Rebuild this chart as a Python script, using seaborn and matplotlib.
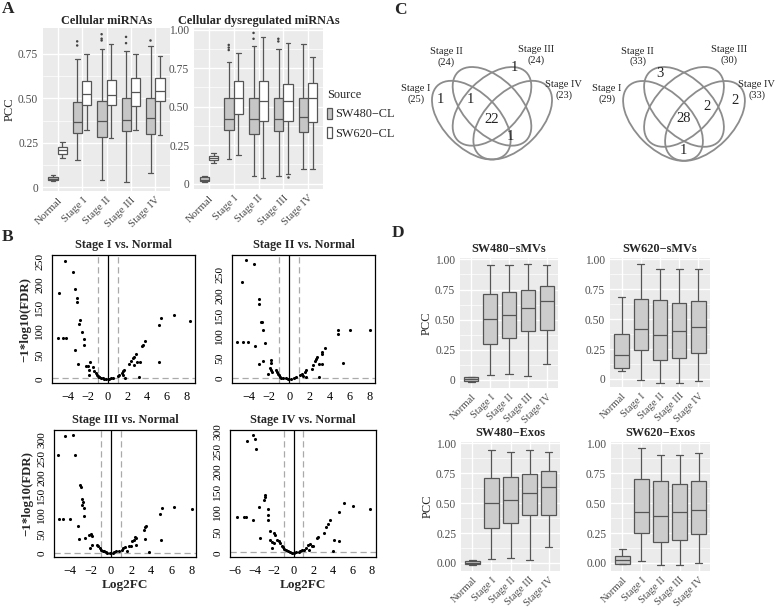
import numpy as np
import pandas as pd
import matplotlib
matplotlib.use("Agg")
import matplotlib.pyplot as plt
from matplotlib.patches import Ellipse, Patch
import seaborn as sns

sns.set_theme(style="white")
plt.rcParams['font.family'] = ['Liberation Serif', 'DejaVu Serif']
plt.rcParams['axes.unicode_minus'] = True

W, H = 777, 608

# ---------------- DATA ----------------
stages = ["Normal", "Stage I", "Stage II", "Stage III", "Stage IV"]
sources = ["SW480\u2212CL", "SW620\u2212CL"]

# five-number summaries [min, q1, median, q3, max] per stage
cell_sw480 = [[0.035, 0.042, 0.05, 0.06, 0.07],
              [0.152, 0.304, 0.365, 0.48, 0.72],
              [0.044, 0.285, 0.374, 0.484, 0.778],
              [0.032, 0.317, 0.378, 0.50, 0.765],
              [0.082, 0.30, 0.389, 0.50, 0.792]]
cell_sw620 = [[0.165, 0.186, 0.209, 0.228, 0.253],
              [0.323, 0.461, 0.522, 0.598, 0.75],
              [0.275, 0.465, 0.518, 0.602, 0.803],
              [0.323, 0.456, 0.537, 0.613, 0.75],
              [0.294, 0.484, 0.541, 0.617, 0.74]]
cell_out_stage = ["Stage I", "Stage I", "Stage II", "Stage II", "Stage II", "Stage III", "Stage III", "Stage IV"]
cell_out_source = ["SW480\u2212CL"] * 8
cell_out_value = [0.797, 0.82, 0.86, 0.835, 0.825, 0.845, 0.81, 0.83]

dys_sw480 = [[0.01, 0.015, 0.025, 0.04, 0.048],
             [0.159, 0.347, 0.418, 0.553, 0.79],
             [0.049, 0.319, 0.418, 0.558, 0.896],
             [0.049, 0.341, 0.418, 0.553, 0.874],
             [0.097, 0.336, 0.431, 0.553, 0.905]]
dys_sw620 = [[0.137, 0.153, 0.168, 0.181, 0.199],
             [0.188, 0.454, 0.557, 0.664, 0.845],
             [0.038, 0.407, 0.535, 0.664, 0.949],
             [0.064, 0.407, 0.535, 0.646, 0.91],
             [0.097, 0.403, 0.557, 0.65, 0.823]]
dys_out_stage = ["Stage I", "Stage I", "Stage I", "Stage II", "Stage II", "Stage III", "Stage III", "Stage III"]
dys_out_source = ["SW480\u2212CL"] * 7 + ["SW620\u2212CL"]
dys_out_value = [0.90, 0.883, 0.867, 0.978, 0.94, 0.94, 0.923, 0.042]

smv_sw480 = [[-0.015, -0.012, 0.005, 0.02, 0.025],
             [0.042, 0.297, 0.508, 0.714, 0.958],
             [0.05, 0.347, 0.539, 0.728, 0.95],
             [0.033, 0.403, 0.597, 0.75, 0.964],
             [0.133, 0.417, 0.653, 0.778, 0.95]]
smv_sw620 = [[0.064, 0.092, 0.204, 0.373, 0.686],
             [-0.006, 0.238, 0.42, 0.672, 0.958],
             [-0.034, 0.154, 0.37, 0.664, 0.919],
             [-0.034, 0.174, 0.40, 0.639, 0.919],
             [-0.02, 0.218, 0.434, 0.653, 0.924]]
exo_sw480 = [[-0.014, -0.010, 0.003, 0.019, 0.025],
             [0.033, 0.293, 0.499, 0.707, 0.945],
             [0.041, 0.334, 0.529, 0.718, 0.932],
             [0.027, 0.397, 0.589, 0.745, 0.945],
             [0.129, 0.405, 0.638, 0.767, 0.926]]
exo_sw620 = [[-0.008, -0.006, 0.028, 0.058, 0.119],
             [0.014, 0.254, 0.425, 0.699, 0.959],
             [-0.014, 0.174, 0.395, 0.682, 0.906],
             [-0.014, 0.193, 0.428, 0.657, 0.906],
             [0.0, 0.240, 0.442, 0.682, 0.917]]

# volcano data
v1_lfc = [-4.3, -3.56, -4.98, -3.32, -3.15, -3.12, -2.81, -2.88, -2.64, -2.37, -2.44, -5.08, -4.58, -4.24,
          -3.32, -3.05, -1.76, -2.0, -2.2, -1.9, -1.5, -1.86, -1.36, -1.19, -1.08, -1.02, -0.92, -0.85,
          -0.68, -0.51, -0.34, -0.17, 0.17, 0.34, 0.51, 1.19, 1.02, 1.42, 1.59, 1.53, 1.69, 1.8,
          2.14, 2.37, 2.54, 2.64, 2.88, 2.64, 2.98, 3.32, 3.22, 3.49, 3.56, 3.83, 5.25, 5.25, 5.42, 6.78, 8.4]
v1_fdr = [250, 227, 182, 191, 172, 163, 125, 117, 100, 85, 72, 88, 88, 88,
          62, 32, 37, 28, 27, 20, 25, 8, 17.6, 12.7, 9.2, 5.6, 3.5, 4.2,
          2.1, 1.4, 0, 0, 0.7, 1.4, 2.8, 9.2, 7, 12.7, 16.2, 7.7, 19.7, 2.1,
          32, 39, 44, 46, 54, 30, 35, 36, 4, 69, 73, 80, 37, 114, 129, 136, 124]

v2_lfc = [-4.23, -3.47, -4.63, -3.0, -2.94, -2.81, -2.68, -2.55, -5.19, -4.56, -4.07, -3.34, -2.41, -2.58,
          -2.98, -1.82, -1.82, -2.08, -1.85, -1.75, -1.65, -1.26, -1.19, -1.09, -1.02, -0.93, -0.76, -0.6,
          -0.33, -0.1, 0.23, 0.46, 0.73, 1.06, 1.32, 1.39, 1.55, 1.65, 1.72,
          2.28, 2.38, 2.55, 2.71, 2.78, 2.98, 3.21, 3.27, 3.54, 2.98, 3.3, 5.29, 4.86, 4.86, 6.02, 8.0]
v2_fdr = [286, 275, 231, 192, 179, 137, 137, 117, 87, 87, 87, 79, 85, 42,
          35, 44, 38, 12, 25.8, 21.8, 16.1, 20.2, 16.1, 12.1, 8.1, 4, 2.4, 1.6,
          0.8, 0, 0, 1.6, 4, 8.1, 12.1, 5.6, 16.1, 4, 20.2,
          24, 32, 43, 47, 51, 36, 59, 63, 73, 4, 36, 38, 117, 107, 117, 117]

v3_lfc = [-4.52, -3.76, -5.18, -3.53, -3.04, -2.97, -2.87, -2.71, -2.8, -2.6, -2.64, -5.08, -4.75, -4.03,
          -3.27, -3.14, -2.54, -2.11, -1.98, -1.88, -2.05, -1.9, -1.39, -1.22, -1.06, -0.96, -0.79, -0.66,
          -0.5, -0.33, -0.07, 0.17, 0.33, 0.53, 0.76, 1.09, 1.25, 1.42, 1.58, 1.78,
          1.98, 2.08, 2.24, 2.41, 2.51, 2.51, 3.23, 3.33, 3.4, 3.5, 3.73, 4.88, 5.05, 4.95, 6.2, 8.0]
v3_fdr = [310, 313, 260, 260, 180, 175, 143, 136, 127, 118, 99, 89, 89, 89,
          72, 38, 40, 48, 51, 46, 13, 22, 21.9, 17.5, 13.2, 8.8, 6.1, 4.4,
          1.8, 0.9, 0, 0.9, 2.6, 4.4, 6.1, 8.8, 13.2, 15.8, 4.4, 19.3,
          19, 31, 35, 42, 40, 22, 61, 37, 68, 72, 4, 104, 120, 34, 121, 116]

v4_lfc = [-4.1, -3.96, -4.78, -3.86, -2.97, -2.9, -3.0, -2.66, -2.63, -2.63, -3.52, -5.8, -5.05, -4.88,
          -4.16, -3.48, -2.39, -2.05, -1.88, -2.39, -2.22, -1.95, -1.71, -1.54, -1.37, -1.19, -1.09, -0.96,
          -0.78, -0.61, -0.41, -0.17, 0.07, 0.27, 0.51, 0.68, 0.85, -2.22, 1.02, 1.3, 1.43, 1.54, 1.71,
          1.88, 1.98, 2.39, 2.46, 3.14, 3.34, 3.48, 3.75, 4.1, 3.99, 4.68, 5.19, 4.68, 6.07, 7.85]
v4_fdr = [291, 281, 277, 257, 143, 138, 131, 109, 94, 82, 113, 89, 89, 89,
          82, 37, 53, 49, 45, 32.8, 26.2, 24.6, 32.8, 28.7, 24.6, 16.4, 14.8, 9.8,
          6.6, 4.1, 1.6, 0, 0, 1.6, 3.3, 5.7, 8.2, 12, 8.2, 12.3, 20.5, 6.6, 22.1,
          16.4, 18, 37, 39, 49, 64, 72, 80, 31, 6, 100, 123, 29, 115, 109]

# Venn data
venn_sets = ["Stage I", "Stage II", "Stage III", "Stage IV"]
venn1_totals = [25, 24, 24, 23]
venn2_totals = [29, 33, 30, 33]
venn1_counts = [1, 1, 1, 22, 1]
venn2_counts = [3, 28, 2, 2, 1]

# ---------------- HELPERS ----------------
fig = plt.figure(figsize=(W / 100, H / 100), dpi=100)


def px_axes(x0, y0, x1, y1):
    return fig.add_axes([x0 / W, 1 - y1 / H, (x1 - x0) / W, (y1 - y0) / H])


def ftext(x, y, s, **kw):
    fig.text(x / W, 1 - y / H, s, **kw)


def five_df(series, names):
    rows = []
    for name, arr in zip(names, series):
        for st, vals in zip(stages, arr):
            for v in vals:
                rows.append({"stage": st, "source": name, "pcc": v})
    return pd.DataFrame(rows)


def gg_style(ax, ylim, yticks, yticklabels, xfs=8.0):
    ax.set_facecolor("#EBEBEB")
    for s in ax.spines.values():
        s.set_visible(False)
    ax.set_ylim(*ylim)
    ax.set_xlim(-0.6, 4.6)
    ax.set_yticks(yticks)
    ax.set_yticklabels(yticklabels)
    minors = [(a + b) / 2 for a, b in zip(yticks[:-1], yticks[1:])]
    ax.set_yticks(minors, minor=True)
    ax.grid(True, which="major", color="white", linewidth=1.0)
    ax.grid(True, which="minor", axis="y", color="white", linewidth=0.5)
    ax.set_axisbelow(True)
    ax.tick_params(axis="y", which="major", length=2.2, width=0.6, color="#333333",
                   labelsize=8.3, labelcolor="#4D4D4D", pad=1.2)
    ax.tick_params(axis="x", which="major", length=2.2, width=0.6, color="#333333",
                   labelsize=xfs, labelcolor="#4D4D4D", pad=1.0)
    ax.tick_params(axis="both", which="minor", length=0)
    ax.set_xticks(range(len(stages)))
    ax.set_xticklabels(stages, rotation=45, ha="right", rotation_mode="anchor")
    ax.set_xlabel("")
    ax.set_ylabel("")


box_kw = dict(whis=(0, 100), width=0.75, linewidth=0.9, linecolor="#555555",
              fliersize=0, saturation=1)

# ---------------- PANEL A ----------------
palA = {sources[0]: "#C6C6C6", sources[1]: "#FFFFFF"}
for (x0, x1, y0, y1), s480, s620, out_st, out_src, out_v, title, ylim, ticks, tl in [
    ((43, 170, 28, 191), cell_sw480, cell_sw620, cell_out_stage, cell_out_source, cell_out_value,
     "Cellular miRNAs", (-0.02, 0.895), [0, 0.25, 0.5, 0.75], ["0", "0.25", "0.50", "0.75"]),
    ((194, 323, 28, 189), dys_sw480, dys_sw620, dys_out_stage, dys_out_source, dys_out_value,
     "Cellular dysregulated miRNAs", (-0.035, 1.01), [0, 0.25, 0.5, 0.75, 1.0],
     ["0", "0.25", "0.50", "0.75", "1.00"])]:
    ax = px_axes(x0, y0, x1, y1)
    df = five_df([s480, s620], sources)
    sns.boxplot(data=df, x="stage", y="pcc", hue="source", order=stages, hue_order=sources,
                palette=palA, legend=False, ax=ax, **box_kw)
    od = pd.DataFrame({"stage": out_st, "source": out_src, "pcc": out_v})
    sns.stripplot(data=od, x="stage", y="pcc", hue="source", order=stages, hue_order=sources,
                  palette={sources[0]: "#444444", sources[1]: "#444444"}, dodge=True, jitter=False,
                  size=1.8, linewidth=0, legend=False, ax=ax)
    gg_style(ax, ylim, ticks, tl)
    ax.set_title(title, fontsize=8.8, fontweight="bold", pad=3)
    if x0 < 100:
        ax.set_ylabel("PCC", fontsize=9, labelpad=2)

handles = [Patch(facecolor=palA[s], edgecolor="#555555", linewidth=0.9) for s in sources]
fig.legend(handles, sources, title="Source", loc="upper left",
           bbox_to_anchor=(322 / W, 1 - 84 / H), frameon=False, fontsize=8.8, title_fontsize=8.8,
           handlelength=0.45, handleheight=1.0, handletextpad=0.2, labelspacing=0.55,
           alignment="left", borderaxespad=0)

# ---------------- PANEL B ----------------
vol_specs = [
    ((52, 255, 195, 383), v1_lfc, v1_fdr, (-5.66, 8.88), (-8.5, 263), range(-4, 9, 2), range(0, 251, 50),
     "Stage I vs. Normal", True, False),
    ((232, 255, 375, 383), v2_lfc, v2_fdr, (-5.65, 8.5), (-10.5, 297), range(-4, 9, 2), range(0, 251, 50),
     "Stage II vs. Normal", False, False),
    ((54, 430, 196, 557), v3_lfc, v3_fdr, (-5.6, 8.4), (-10.5, 325), range(-4, 9, 2), range(0, 301, 50),
     "Stage III vs. Normal", True, True),
    ((230, 430, 376, 557), v4_lfc, v4_fdr, (-6.5, 8.43), (-10, 303), range(-6, 9, 2), range(0, 301, 50),
     "Stage IV vs. Normal", False, True),
]
for (x0, y0, x1, y1), lx, ly, xl, yl, xt, yt, title, showy, showx in vol_specs:
    ax = px_axes(x0, y0, x1, y1)
    ax.set_facecolor("white")
    sns.scatterplot(x=lx, y=ly, color="black", s=5, linewidth=0, ax=ax, zorder=3)
    ax.axhline(-np.log10(0.05), color="#AAAAAA", linestyle=(0, (5, 3)), linewidth=0.9, zorder=1)
    ax.axvline(-1, color="#AAAAAA", linestyle=(0, (5, 3)), linewidth=0.9, zorder=1)
    ax.axvline(1, color="#AAAAAA", linestyle=(0, (5, 3)), linewidth=0.9, zorder=1)
    ax.axvline(0, color="black", linewidth=0.9, zorder=2)
    ax.set_xlim(*xl)
    ax.set_ylim(*yl)
    ax.set_xticks(list(xt))
    ax.set_yticks(list(yt))
    ax.set_xticklabels([str(v).replace("-", "\u2212") for v in xt])
    ax.set_yticklabels([str(v) for v in yt], rotation=90, va="center")
    for s in ax.spines.values():
        s.set_visible(True)
        s.set_color("black")
        s.set_linewidth(0.9)
    ax.tick_params(axis="x", length=3.5, width=0.8, color="black", labelsize=8.8,
                   labelcolor="black", pad=2, direction="out")
    ax.tick_params(axis="y", length=3.5, width=0.8, color="black", labelsize=8.2,
                   labelcolor="black", pad=2, direction="out")
    ax.grid(False)
    ax.set_title(title, fontsize=8.8, fontweight="bold", pad=5)
    if showy:
        ax.set_ylabel("\u22121*log10(FDR)", fontsize=9.3, fontweight="bold", labelpad=3)
    if showx:
        ax.set_xlabel("Log2FC", fontsize=9.5, fontweight="bold", labelpad=2)

# ---------------- PANEL C (Venn) ----------------
ell_centers = [(0.35, 0.47), (0.5, 0.57), (0.5, 0.57), (0.65, 0.47)]
ell_angles = [-45, -45, 45, 45]
venn_label_pos = [(-0.05, 0.66), (0.17, 0.93), (0.82, 0.94), (1.02, 0.69)]
venn1_pos = [(0.123, 0.616), (0.34, 0.616), (0.662, 0.855), (0.498, 0.476), (0.63, 0.355)]
venn2_pos = [(0.329, 0.81), (0.495, 0.489), (0.662, 0.576), (0.864, 0.614), (0.495, 0.262)]
for (px0, py0, size), totals, counts, cpos in [((423, 47, 138), venn1_totals, venn1_counts, venn1_pos),
                                                 ((614, 46.7, 140), venn2_totals, venn2_counts, venn2_pos)]:
    ax = px_axes(px0, py0, px0 + size, py0 + size)
    ax.set_xlim(0, 1)
    ax.set_ylim(0, 1)
    ax.axis("off")
    for (cx, cy), ang in zip(ell_centers, ell_angles):
        ax.add_patch(Ellipse((cx, cy), 0.70, 0.40, angle=ang, fill=False,
                             edgecolor="#8C8C8C", linewidth=1.3))
    for name, tot, (lx, ly) in zip(venn_sets, totals, venn_label_pos):
        ax.text(lx, ly, f"{name}\n({tot})", ha="center", va="center", fontsize=7.5,
                color="#222222", linespacing=1.15)
    for c, (cx, cy) in zip(counts, cpos):
        ax.text(cx, cy, str(c), ha="center", va="center", fontsize=10.5, color="#222222")

# ---------------- PANEL D ----------------
d_specs = [((460, 258, 558, 388), smv_sw480, "SW480\u2212sMVs", True, ["0", "0.25", "0.50", "0.75", "1.00"]),
           ((610, 258, 710, 387), smv_sw620, "SW620\u2212sMVs", False, ["0", "0.25", "0.50", "0.75", "1.00"]),
           ((461, 442, 560, 571), exo_sw480, "SW480\u2212Exos", True, ["0.00", "0.25", "0.50", "0.75", "1.00"]),
           ((611, 442, 710, 571), exo_sw620, "SW620\u2212Exos", False, ["0.00", "0.25", "0.50", "0.75", "1.00"])]
for (x0, y0, x1, y1), arr, title, showy, tl in d_specs:
    ax = px_axes(x0, y0, x1, y1)
    df = five_df([arr], ["x"])
    sns.boxplot(data=df, x="stage", y="pcc", order=stages, color="#CCCCCC", ax=ax, **box_kw)
    gg_style(ax, (-0.068, 1.012), [0, 0.25, 0.5, 0.75, 1.0], tl, xfs=7.6)
    ax.set_title(title, fontsize=8.8, fontweight="bold", pad=4)
    if showy:
        ax.set_ylabel("PCC", fontsize=9, labelpad=2)

# ---------------- PANEL LETTERS ----------------
for lab, x, y in [("A", 8, 9), ("B", 8, 237), ("C", 400, 10), ("D", 398, 233)]:
    ftext(x, y, lab, fontsize=12.5, fontweight="bold", ha="center", va="center")

fig.savefig("out.png", dpi=100)
